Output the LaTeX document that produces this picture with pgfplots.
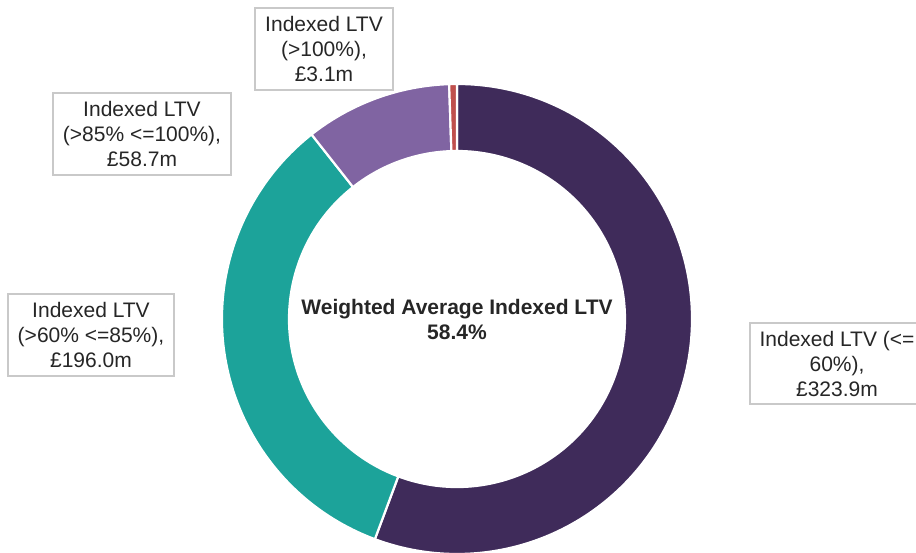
\documentclass[border=0pt]{standalone}
\usepackage{pgfplots}
\pgfplotsset{compat=1.18}
\usepackage{fontspec}
\setmainfont{Liberation Sans}
\definecolor{cDark}{HTML}{3F2B5A}
\definecolor{cTeal}{HTML}{1CA39A}
\definecolor{cLight}{HTML}{8064A2}
\definecolor{cRed}{HTML}{C0504D}
\definecolor{cText}{HTML}{262626}
\definecolor{cBox}{HTML}{C9C9C9}
\tikzset{lbl/.style={font=\fontsize{10.5}{12.5}\selectfont, text=cText, align=center, inner sep=0pt}}
% data: Indexed LTV balances (GBP m)
\def\vA{323.9}% <=60%
\def\vB{196.0}% >60% <=85%
\def\vC{58.7}%  >85% <=100%
\def\vD{3.1}%   >100%
\begin{document}
\begin{tikzpicture}
\pgfmathsetmacro\tot{\vA+\vB+\vC+\vD}
\pgfmathsetmacro\aA{90}
\pgfmathsetmacro\aB{\aA-360*(\vA/\tot)}
\pgfmathsetmacro\aC{\aB-360*(\vB/\tot)}
\pgfmathsetmacro\aD{\aC-360*(\vC/\tot)}
\pgfmathsetmacro\aE{\aD-360*(\vD/\tot)}
\def\cx{457}\def\cy{-319}
\def\Ro{235}\def\Ri{168}
\begin{axis}[
  width=458pt, height=276pt, scale only axis,
  xmin=0, xmax=916, ymin=-552, ymax=0,
  hide axis, clip=false,
]
% donut slices
\newcommand\slice[3]{%
  \fill[#3, draw=white, line width=1.1pt]
    (axis cs:{\cx+\Ro*cos(#1)},{\cy+\Ro*sin(#1)})
    arc[start angle=#1, end angle=#2, radius=117.5pt]
    -- (axis cs:{\cx+\Ri*cos(#2)},{\cy+\Ri*sin(#2)})
    arc[start angle=#2, end angle=#1, radius=84pt] -- cycle;}
\slice{\aA}{\aB}{cDark}
\slice{\aB}{\aC}{cTeal}
\slice{\aC}{\aD}{cLight}
\slice{\aD}{\aE}{cRed}
% centre text
\node[lbl, font=\fontsize{10.5}{12.5}\selectfont\bfseries] at (axis cs:457,-319.5)
  {Weighted Average Indexed LTV\\58.4\%};
% label boxes
\draw[cBox, line width=0.8pt, fill=white] (axis cs:255,-8) rectangle (axis cs:393,-90);
\node[lbl] at (axis cs:324,-49) {Indexed LTV\\(>100\%),\\£3.1m};
\draw[cBox, line width=0.8pt, fill=white] (axis cs:53,-93) rectangle (axis cs:231,-175);
\node[lbl] at (axis cs:142,-134) {Indexed LTV\\(>85\% <=100\%),\\£58.7m};
\draw[cBox, line width=0.8pt, fill=white] (axis cs:8,-294) rectangle (axis cs:174,-376);
\node[lbl] at (axis cs:91,-335) {Indexed LTV\\(>60\% <=85\%),\\£196.0m};
\draw[cBox, line width=0.8pt, fill=white] (axis cs:750,-323) rectangle (axis cs:924,-404);
\node[lbl] at (axis cs:837,-363.5) {Indexed LTV (<=\\60\%),\\£323.9m};
\end{axis}
\pgfresetboundingbox
\path[use as bounding box] (current axis.south west) rectangle (current axis.north east);
\end{tikzpicture}
\end{document}
